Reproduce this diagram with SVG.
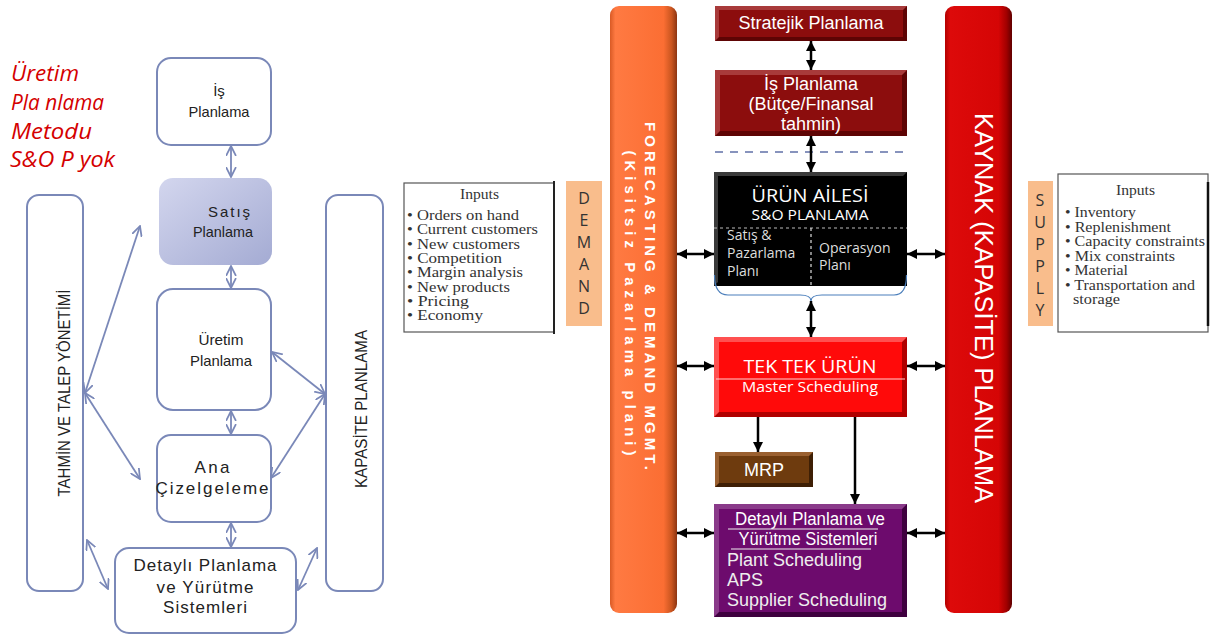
<svg xmlns="http://www.w3.org/2000/svg" width="1211" height="635" viewBox="0 0 1211 635">
<style>
.lbox{fill:#fff;stroke:#7a88b8;stroke-width:2}
.ltxt{font-family:"Liberation Sans",Arial,sans-serif;fill:#222;text-anchor:middle}
.red{font-family:"Open Sans","Liberation Sans",Arial,sans-serif;font-style:italic;font-size:21px;fill:#d40000}
.blue{stroke:#7a88b8;stroke-width:1.8;fill:none;marker-start:url(#ob);marker-end:url(#ob)}
.blk{stroke:#000;stroke-width:2.5;fill:none}
.dbl{marker-start:url(#bk);marker-end:url(#bk)}
.one{marker-end:url(#bk)}
.wt{font-family:"Liberation Sans",Arial,sans-serif;fill:#fff;text-anchor:middle}
.os{font-family:"Open Sans","Liberation Sans",sans-serif}
.ser{font-family:"Liberation Serif","Times New Roman",serif;font-size:14px;fill:#333}
.peach{fill:#f9bd8c}
.pl{font-family:"Open Sans","Liberation Sans",sans-serif;font-size:16px;fill:#333;text-anchor:middle}
</style>
<defs>
<marker id="ob" viewBox="0 0 10 10" refX="9" refY="5" markerWidth="11" markerHeight="11" markerUnits="userSpaceOnUse" orient="auto-start-reverse">
<path d="M0,0.5 L9,5 L0,9.5" fill="none" stroke="#7a88b8" stroke-width="1.6"/>
</marker>
<marker id="bk" viewBox="0 0 10 10" refX="10" refY="5" markerWidth="10" markerHeight="10" markerUnits="userSpaceOnUse" orient="auto-start-reverse">
<path d="M0,0 L10,5 L0,10 z" fill="#000"/>
</marker>
<linearGradient id="gOr" x1="0" y1="0" x2="1" y2="0">
<stop offset="0" stop-color="#d95a25"/><stop offset="0.08" stop-color="#ff7a42"/><stop offset="0.8" stop-color="#fb6e33"/><stop offset="0.92" stop-color="#c9551f"/><stop offset="1" stop-color="#8c3512"/>
</linearGradient>
<linearGradient id="gRd" x1="0" y1="0" x2="1" y2="0">
<stop offset="0" stop-color="#b30000"/><stop offset="0.08" stop-color="#dd0a0a"/><stop offset="0.8" stop-color="#d50505"/><stop offset="0.92" stop-color="#a00000"/><stop offset="1" stop-color="#600000"/>
</linearGradient>
<linearGradient id="gSat" x1="0" y1="0" x2="1" y2="1">
<stop offset="0" stop-color="#d3d6ee"/><stop offset="1" stop-color="#a4abd3"/>
</linearGradient>
</defs>

<!-- Left title -->
<g id="title">
<text class="red" x="11" y="81" textLength="68" lengthAdjust="spacingAndGlyphs">Üretim</text>
<text class="red" x="11" y="110" textLength="93" lengthAdjust="spacingAndGlyphs">Pla nlama</text>
<text class="red" x="11" y="139" textLength="81" lengthAdjust="spacingAndGlyphs">Metodu</text>
<text class="red" x="10" y="167" textLength="105" lengthAdjust="spacingAndGlyphs">S&amp;O P yok</text>
</g>

<!-- Left diagram nodes -->
<g id="is-planlama-l">
<rect class="lbox" x="157" y="58" width="114" height="87" rx="14"/>
<text class="ltxt" x="219" y="96" font-size="15">İş</text>
<text class="ltxt" x="219" y="117" font-size="15" textLength="61" lengthAdjust="spacingAndGlyphs">Planlama</text>
</g>
<g id="satis-planlama-l">
<rect x="159" y="178" width="113" height="87" rx="14" fill="url(#gSat)"/>
<text class="ltxt" x="229" y="217" font-size="15" textLength="42" lengthAdjust="spacing">Satış</text>
<text class="ltxt" x="223" y="237" font-size="15" textLength="60" lengthAdjust="spacingAndGlyphs">Planlama</text>
</g>
<g id="uretim-planlama-l">
<rect class="lbox" x="157" y="289" width="114" height="121" rx="16"/>
<text class="ltxt" x="221" y="345" font-size="15" textLength="45" lengthAdjust="spacingAndGlyphs">Üretim</text>
<text class="ltxt" x="221" y="366" font-size="15" textLength="62" lengthAdjust="spacingAndGlyphs">Planlama</text>
</g>
<g id="ana-cizelgeleme-l">
<rect class="lbox" x="157" y="435" width="114" height="87" rx="14"/>
<text class="ltxt" x="212" y="473" font-size="17" textLength="35" lengthAdjust="spacing">Ana</text>
<text class="ltxt" x="212" y="494" font-size="17" textLength="113" lengthAdjust="spacing">Çizelgeleme</text>
</g>
<g id="detayli-l">
<rect class="lbox" x="115" y="548" width="181" height="85" rx="14"/>
<text class="ltxt" x="205" y="571" font-size="17" textLength="143" lengthAdjust="spacing">Detaylı Planlama</text>
<text class="ltxt" x="205" y="593" font-size="17" textLength="97" lengthAdjust="spacing">ve Yürütme</text>
<text class="ltxt" x="205" y="613" font-size="17" textLength="84" lengthAdjust="spacing">Sistemleri</text>
</g>
<g id="tahmin-bar">
<rect class="lbox" x="27" y="195" width="56" height="396" rx="12"/>
<text class="ltxt" transform="translate(70,393) rotate(-90)" font-size="17" textLength="207" lengthAdjust="spacingAndGlyphs">TAHMİN VE TALEP YÖNETİMİ</text>
</g>
<g id="kapasite-bar">
<rect class="lbox" x="326" y="195" width="57" height="396" rx="12"/>
<text class="ltxt" transform="translate(367,409) rotate(-90)" font-size="17" textLength="158" lengthAdjust="spacingAndGlyphs">KAPASİTE PLANLAMA</text>
</g>

<!-- Right diagram nodes -->
<g id="inputs-demand">
<rect x="404" y="183" width="150" height="149" fill="#fff" stroke="#555" stroke-width="1.2"/>
<line x1="554" y1="181" x2="554" y2="334" stroke="#222" stroke-width="2"/>
<text class="ser" x="460" y="199" textLength="39" lengthAdjust="spacingAndGlyphs">Inputs</text>
<text class="ser" x="407" y="220" textLength="112" lengthAdjust="spacingAndGlyphs">• Orders on hand</text>
<text class="ser" x="407" y="234.3" textLength="131" lengthAdjust="spacingAndGlyphs">• Current customers</text>
<text class="ser" x="407" y="248.6" textLength="113" lengthAdjust="spacingAndGlyphs">• New customers</text>
<text class="ser" x="407" y="262.9" textLength="95" lengthAdjust="spacingAndGlyphs">• Competition</text>
<text class="ser" x="407" y="277.2" textLength="116" lengthAdjust="spacingAndGlyphs">• Margin analysis</text>
<text class="ser" x="407" y="291.5" textLength="103" lengthAdjust="spacingAndGlyphs">• New products</text>
<text class="ser" x="407" y="305.8" textLength="62" lengthAdjust="spacingAndGlyphs">• Pricing</text>
<text class="ser" x="407" y="320.1" textLength="76" lengthAdjust="spacingAndGlyphs">• Economy</text>
</g>
<g id="demand">
<rect class="peach" x="566" y="181" width="36" height="145"/>
<text class="pl" x="584" y="204">D</text>
<text class="pl" x="584" y="226">E</text>
<text class="pl" x="584" y="248">M</text>
<text class="pl" x="584" y="270">A</text>
<text class="pl" x="584" y="292">N</text>
<text class="pl" x="584" y="314">D</text>
</g>
<g id="forecasting-bar">
<rect x="610" y="6" width="67" height="607" rx="9" fill="url(#gOr)"/>
<text class="wt" transform="translate(645,296) rotate(90)" font-size="15" font-weight="bold" textLength="348" lengthAdjust="spacing">FORECASTING &amp; DEMAND MGMT.</text>
<text class="wt" transform="translate(625,303) rotate(90)" font-size="15" font-weight="bold" textLength="305" lengthAdjust="spacing">(Kisitsiz Pazarlama plani)</text>
</g>
<g id="kaynak-bar">
<rect x="945" y="6" width="67" height="607" rx="9" fill="url(#gRd)"/>
<text class="wt" transform="translate(975,308) rotate(90)" font-size="25" textLength="390" lengthAdjust="spacingAndGlyphs">KAYNAK (KAPASİTE)  PLANLAMA</text>
</g>
<g id="supply">
<rect class="peach" x="1028" y="181" width="25" height="145"/>
<text class="pl" x="1040" y="206">S</text>
<text class="pl" x="1040" y="228">U</text>
<text class="pl" x="1040" y="250">P</text>
<text class="pl" x="1040" y="272">P</text>
<text class="pl" x="1040" y="294">L</text>
<text class="pl" x="1040" y="316">Y</text>
</g>
<g id="inputs-supply">
<rect x="1058" y="174" width="150" height="158" fill="#fff" stroke="#555" stroke-width="1.2"/>
<line x1="1208" y1="182" x2="1208" y2="326" stroke="#111" stroke-width="2.5"/>
<text class="ser" x="1116" y="195" textLength="39" lengthAdjust="spacingAndGlyphs">Inputs</text>
<text class="ser" x="1065" y="217" textLength="71" lengthAdjust="spacingAndGlyphs">• Inventory</text>
<text class="ser" x="1065" y="231.5" textLength="106" lengthAdjust="spacingAndGlyphs">• Replenishment</text>
<text class="ser" x="1065" y="246" textLength="140" lengthAdjust="spacingAndGlyphs">• Capacity constraints</text>
<text class="ser" x="1065" y="260.5" textLength="110" lengthAdjust="spacingAndGlyphs">• Mix constraints</text>
<text class="ser" x="1065" y="275" textLength="63" lengthAdjust="spacingAndGlyphs">• Material</text>
<text class="ser" x="1065" y="289.5" textLength="130" lengthAdjust="spacingAndGlyphs">• Transportation and</text>
<text class="ser" x="1073" y="304" textLength="47" lengthAdjust="spacingAndGlyphs">storage</text>
</g>

<g id="stratejik">
<rect x="715" y="6" width="192" height="35" fill="#5e0404"/>
<polygon points="715,6 907,6 903,10 719,10 719,37 715,41" fill="#a83a3a"/>
<rect x="719" y="10" width="184" height="27" fill="#8c0d0d"/>
<text class="wt" x="811" y="29" font-size="18">Stratejik Planlama</text>
</g>
<g id="is-planlama-r">
<rect x="715" y="70" width="192" height="66" fill="#5e0404"/>
<polygon points="715,70 907,70 902,75 720,75 720,131 715,136" fill="#a83a3a"/>
<rect x="720" y="75" width="182" height="56" fill="#8c0d0d"/>
<text class="wt" x="811" y="90" font-size="18">İş Planlama</text>
<text class="wt" x="811" y="110" font-size="18">(Bütçe/Finansal</text>
<text class="wt" x="811" y="130" font-size="18">tahmin)</text>
</g>
<line x1="715" y1="152" x2="907" y2="152" stroke="#6070a8" stroke-width="1.5" stroke-dasharray="8,7"/>
<g id="urun-ailesi">
<rect x="714" y="172" width="193" height="114" fill="#000"/>
<polygon points="714,172 907,172 903,176 718,176 718,282 714,286" fill="#3a3a3a"/>
<text class="wt os" x="810" y="202" font-size="18" textLength="117" lengthAdjust="spacingAndGlyphs">ÜRÜN AİLESİ</text>
<text class="wt os" x="810" y="220" font-size="14" textLength="117" lengthAdjust="spacingAndGlyphs">S&amp;O PLANLAMA</text>
<line x1="714" y1="228" x2="907" y2="228" stroke="#bbb" stroke-width="1" stroke-dasharray="3,3"/>
<line x1="811" y1="228" x2="811" y2="286" stroke="#ddd" stroke-width="1.2" stroke-dasharray="3,3"/>
<text class="os" x="727" y="240" font-size="14" fill="#ddd">Satış &amp;</text>
<text class="os" x="727" y="258" font-size="14" fill="#ddd">Pazarlama</text>
<text class="os" x="727" y="276" font-size="14" fill="#ddd">Planı</text>
<text class="os" x="819" y="253" font-size="14" fill="#ddd">Operasyon</text>
<text class="os" x="819" y="270" font-size="14" fill="#ddd">Planı</text>
</g>
<path d="M714.5,275 Q714.5,295 728,295 L800,295 Q811,295 811,301 Q811,295 822,295 L894,295 Q906.5,295 906.5,275" fill="none" stroke="#4a7ebb" stroke-width="1.2"/>
<g id="tek-tek">
<rect x="714" y="337" width="193" height="80" fill="#b00000"/>
<polygon points="714,337 907,337 902,342 719,342 719,412 714,417" fill="#ff5050"/>
<rect x="719" y="342" width="183" height="70" fill="#ff0a0a"/>
<text class="wt os" x="810" y="373" font-size="18" textLength="133" lengthAdjust="spacingAndGlyphs">TEK TEK ÜRÜN</text>
<line x1="716" y1="379" x2="905" y2="379" stroke="#ffd0d0" stroke-width="1.2"/>
<text class="wt os" x="810" y="392" font-size="15" textLength="136" lengthAdjust="spacingAndGlyphs">Master Scheduling</text>
</g>
<g id="mrp">
<rect x="715" y="452" width="98" height="35" fill="#3e1f05"/>
<polygon points="715,452 813,452 809,456 719,456 719,483 715,487" fill="#9a6030"/>
<rect x="719" y="456" width="90" height="27" fill="#6e3b0e"/>
<text class="wt" x="764" y="476" font-size="18" fill="#f0e6dc">MRP</text>
</g>
<g id="detayli-r">
<rect x="714" y="504" width="193" height="113" fill="#3f003f"/>
<polygon points="714,504 907,504 902,509 719,509 719,612 714,617" fill="#8a3a8a"/>
<rect x="719" y="509" width="183" height="103" fill="#6d0b6d"/>
<text class="wt" x="810" y="525" font-size="17.5" fill="#eee" textLength="150" lengthAdjust="spacingAndGlyphs">Detaylı Planlama ve</text>
<line x1="728" y1="529" x2="878" y2="529" stroke="#eee" stroke-width="1.2"/>
<text class="wt" x="808" y="545" font-size="17.5" fill="#eee" textLength="139" lengthAdjust="spacingAndGlyphs">Yürütme  Sistemleri</text>
<line x1="731" y1="549" x2="871" y2="549" stroke="#eee" stroke-width="1.2"/>
<text x="727" y="566" font-family="Liberation Sans, Arial, sans-serif" font-size="18" fill="#eee">Plant Scheduling</text>
<text x="727" y="586" font-family="Liberation Sans, Arial, sans-serif" font-size="18" fill="#eee">APS</text>
<text x="727" y="606" font-family="Liberation Sans, Arial, sans-serif" font-size="18" fill="#eee">Supplier Scheduling</text>
</g>

<!-- Connectors -->
<g id="connectors">
<line class="blue" x1="231" y1="146" x2="231" y2="177"/>
<line class="blue" x1="231" y1="266" x2="231" y2="288"/>
<line class="blue" x1="231" y1="411" x2="231" y2="434"/>
<line class="blue" x1="231" y1="523" x2="231" y2="547"/>
<line class="blue" x1="85" y1="393" x2="140" y2="226"/>
<line class="blue" x1="85" y1="393" x2="140" y2="479"/>
<line class="blue" x1="87" y1="540" x2="108" y2="589"/>
<line class="blue" x1="272" y1="352" x2="325" y2="394"/>
<line class="blue" x1="325" y1="394" x2="271" y2="478"/>
<line class="blue" x1="298" y1="590" x2="317" y2="548"/>

<line class="blk dbl" x1="811" y1="41" x2="811" y2="70"/>
<line class="blk dbl" x1="811" y1="136" x2="811" y2="172"/>
<line class="blk dbl" x1="811" y1="301" x2="811" y2="337"/>
<line class="blk dbl" x1="677" y1="254" x2="714" y2="254"/>
<line class="blk dbl" x1="907" y1="254" x2="945" y2="254"/>
<line class="blk dbl" x1="677" y1="366" x2="714" y2="366"/>
<line class="blk dbl" x1="907" y1="366" x2="945" y2="366"/>
<line class="blk dbl" x1="677" y1="533" x2="714" y2="533"/>
<line class="blk dbl" x1="907" y1="533" x2="945" y2="533"/>
<line class="blk one" x1="758" y1="417" x2="758" y2="452"/>
<line class="blk one" x1="855" y1="417" x2="855" y2="504"/>
</g>
</svg>
